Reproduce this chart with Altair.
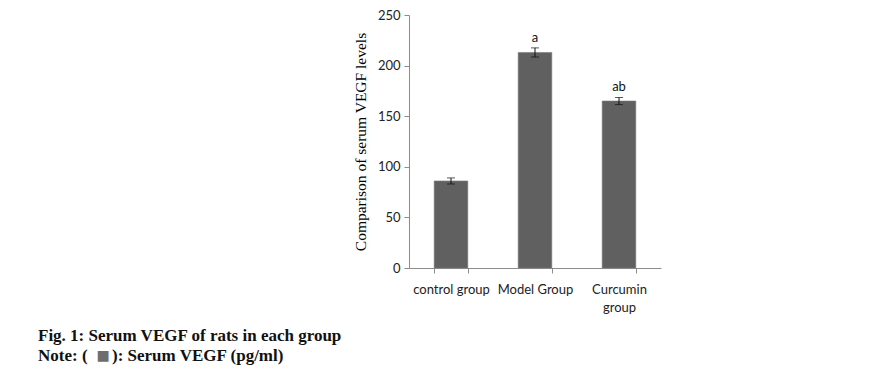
import altair as alt
import pandas as pd

groups = ["control group", "Model Group", "Curcumin group"]
means = [86, 213, 165]
errors = [3, 4.5, 3.5]
letters = ["", "a", "ab"]
y_ticks = [0, 50, 100, 150, 200, 250]
caption_1 = "Fig. 1: Serum VEGF of rats in each group"
caption_2a = "Note: ("
caption_2b = "): Serum VEGF (pg/ml)"

df = pd.DataFrame({
    "group": groups,
    "mean": means,
    "lo": [m - e for m, e in zip(means, errors)],
    "hi": [m + e for m, e in zip(means, errors)],
    "letter": letters,
})

AX = "#8c8c8c"
LABEL_FONT = "Lato"

x_enc = alt.X(
    "group:N", sort=groups, title=None,
    scale=alt.Scale(paddingInner=0.6, paddingOuter=0.3),
    axis=alt.Axis(
        labelAngle=0, labelFont=LABEL_FONT, labelFontSize=13, labelColor="#222",
        labelPadding=16, labelLineHeight=18,
        labelExpr="datum.label == 'Curcumin group' ? ['Curcumin', 'group'] : datum.label",
        tickBand="extent", tickSize=5, tickColor=AX, domainColor=AX,
        labelBaseline="middle",
    ),
)
y_scale = alt.Scale(domain=[0, 250], nice=False)

bars = alt.Chart(df).mark_bar(color="#606060", stroke="#7a7a7a", strokeWidth=0.6).encode(
    x=x_enc,
    y=alt.Y(
        "mean:Q", scale=y_scale,
        title="Comparison of serum VEGF levels",
        axis=alt.Axis(
            values=y_ticks, grid=False, tickSize=5, tickColor=AX, domainColor=AX,
            labelFont=LABEL_FONT, labelFontSize=13, labelColor="#222", labelPadding=4,
            titleFont="Liberation Serif", titleFontSize=15.5, titleFontWeight="normal",
            titleColor="#000", titlePadding=9,
        ),
    ),
)

rule = alt.Chart(df).mark_rule(color="#111", strokeWidth=1).encode(
    x=alt.X("group:N", sort=groups),
    y=alt.Y("lo:Q", scale=y_scale),
    y2="hi:Q",
)
tick_lo = alt.Chart(df).mark_tick(color="#111", size=8, thickness=1, orient="horizontal").encode(
    x=alt.X("group:N", sort=groups),
    y=alt.Y("lo:Q", scale=y_scale),
)
tick_hi = alt.Chart(df).mark_tick(color="#111", size=8, thickness=1, orient="horizontal").encode(
    x=alt.X("group:N", sort=groups),
    y=alt.Y("hi:Q", scale=y_scale),
)
letters_layer = alt.Chart(df).mark_text(
    font=LABEL_FONT, fontSize=13, color="#111", baseline="bottom", dy=-3
).encode(
    x=alt.X("group:N", sort=groups),
    y=alt.Y("hi:Q", scale=y_scale),
    text="letter:N",
)

cap1 = alt.Chart(pd.DataFrame({"t": [caption_1]})).mark_text(
    font="Liberation Serif", fontWeight="bold", fontSize=17, align="left",
    baseline="alphabetic", color="#111"
).encode(x=alt.value(-371), y=alt.value(326), text="t:N")

cap2a = alt.Chart(pd.DataFrame({"t": [caption_2a]})).mark_text(
    font="Liberation Serif", fontWeight="bold", fontSize=17, align="left",
    baseline="alphabetic", color="#111"
).encode(x=alt.value(-371), y=alt.value(346), text="t:N")
cap2sq = alt.Chart(pd.DataFrame({"t": ["■"]})).mark_text(
    font="DejaVu Sans", fontSize=14, align="center",
    baseline="alphabetic", color="#6e6e6e"
).encode(x=alt.value(-306), y=alt.value(345), text="t:N")
cap2b = alt.Chart(pd.DataFrame({"t": [caption_2b]})).mark_text(
    font="Liberation Serif", fontWeight="bold", fontSize=17, align="left",
    baseline="alphabetic", color="#111"
).encode(x=alt.value(-297), y=alt.value(346), text="t:N")

chart = alt.layer(
    bars, rule, tick_lo, tick_hi, letters_layer, cap1, cap2a, cap2sq, cap2b
).properties(
    width=252, height=253,
    autosize=alt.AutoSizeParams(type="none"),
    padding={"left": 401, "top": 7, "right": 215, "bottom": 103},
).configure(background="white").configure_view(strokeWidth=0)

chart.save("out.html", embed_options={"renderer": "svg", "actions": False})
